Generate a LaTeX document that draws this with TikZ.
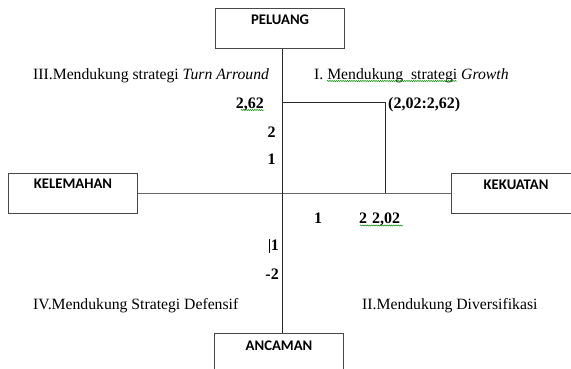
\documentclass[tikz,border=0pt]{standalone}
\usepackage{fontspec}
\setmainfont{Liberation Serif}
\newfontfamily\boxfont{Carlito}
\usetikzlibrary{calc,decorations.pathmorphing}
\begin{document}
\begin{tikzpicture}[x=1pt,y=-1pt,
  frame/.style={draw=black!72, line width=1.1pt, minimum width=129pt, minimum height=40pt, inner sep=0pt, anchor=north west},
  boxlabel/.style={font=\boxfont\bfseries\fontsize{14.7}{16}\selectfont, inner sep=0pt, anchor=base},
  quad/.style={font=\fontsize{15.7}{18}\selectfont, inner sep=0pt, anchor=base west},
  num/.style={font=\bfseries\fontsize{16}{18}\selectfont, inner sep=0pt},
  axis/.style={draw=black!85, line width=0.9pt},
  haxis/.style={draw=black!60, line width=1.3pt},
  squig/.style={draw=green!55!black, line width=0.5pt, decorate, decoration={snake, amplitude=0.6pt, segment length=2.2pt}}]
\useasboundingbox (0,0) rectangle (571,368);
\clip (0,0) rectangle (571,368);
% boxes
\node[frame] (pel) at (215,8) {};
\node[frame] (kel) at (8,173) {};
\node[frame] (kek) at (451,173) {};
\node[frame] (anc) at (214,333) {};
\node[boxlabel] (pelt) at ($(pel.north)+(0,16.5)$) {PELUANG};
\node[boxlabel] (kelt) at ($(kel.north)+(0,15.5)$) {KELEMAHAN};
\node[boxlabel] (kekt) at ($(kek.north)+(0,16)$) {KEKUATAN};
\node[boxlabel] (anct) at ($(anc.north)+(0,17)$) {ANCAMAN};
% axes
\coordinate (o) at (282,193);
\draw[haxis] (kel.east) -- (kek.west);
\draw[axis] (o |- pel.south) -- (o |- anc.north);
% point
\coordinate (p) at (385,102);
\draw[axis] (o |- p) -- (p) -- (p |- o);
% numbers
\node[num, anchor=base east] (y262) at (264,108) {2,62};
\node[num, anchor=base west] (pt) at (388,108) {(2,02:2,62)};
\node[num, anchor=base] (y2) at (271.5,137) {2};
\node[num, anchor=base] (y1) at (271.5,164.5) {1};
\node[num, anchor=base] (x1) at (318,223.5) {1};
\node[num, anchor=base west] (x2) at (359,223.5) {2\hspace{5pt}2,02};
\node[num, anchor=base east] (ym1) at (279,250.5) {1};
\draw[line width=1.6pt] (269.3,239) -- (269.3,253);
\node[num, anchor=base east] (ym2) at (279,279.5) {-2};
% quadrant labels
\node[quad] (q3) at (33,79) {III.Mendukung strategi \textit{Turn Arround}};
\node[quad] (q1) at (314,79) {I. Mendukung\hspace{4pt} strategi \textit{Growth}};
\node[quad] (q4) at (33,309) {IV.Mendukung Strategi Defensif};
\node[quad] (q2) at (362,309) {II.Mendukung Diversifikasi};
% spelling marks
\draw[squig] (327,81) -- (457,81);
\draw[squig] (241,110) -- (264,110);
\draw[squig] (360,225.5) -- (403,225.5);
\end{tikzpicture}
\end{document}
